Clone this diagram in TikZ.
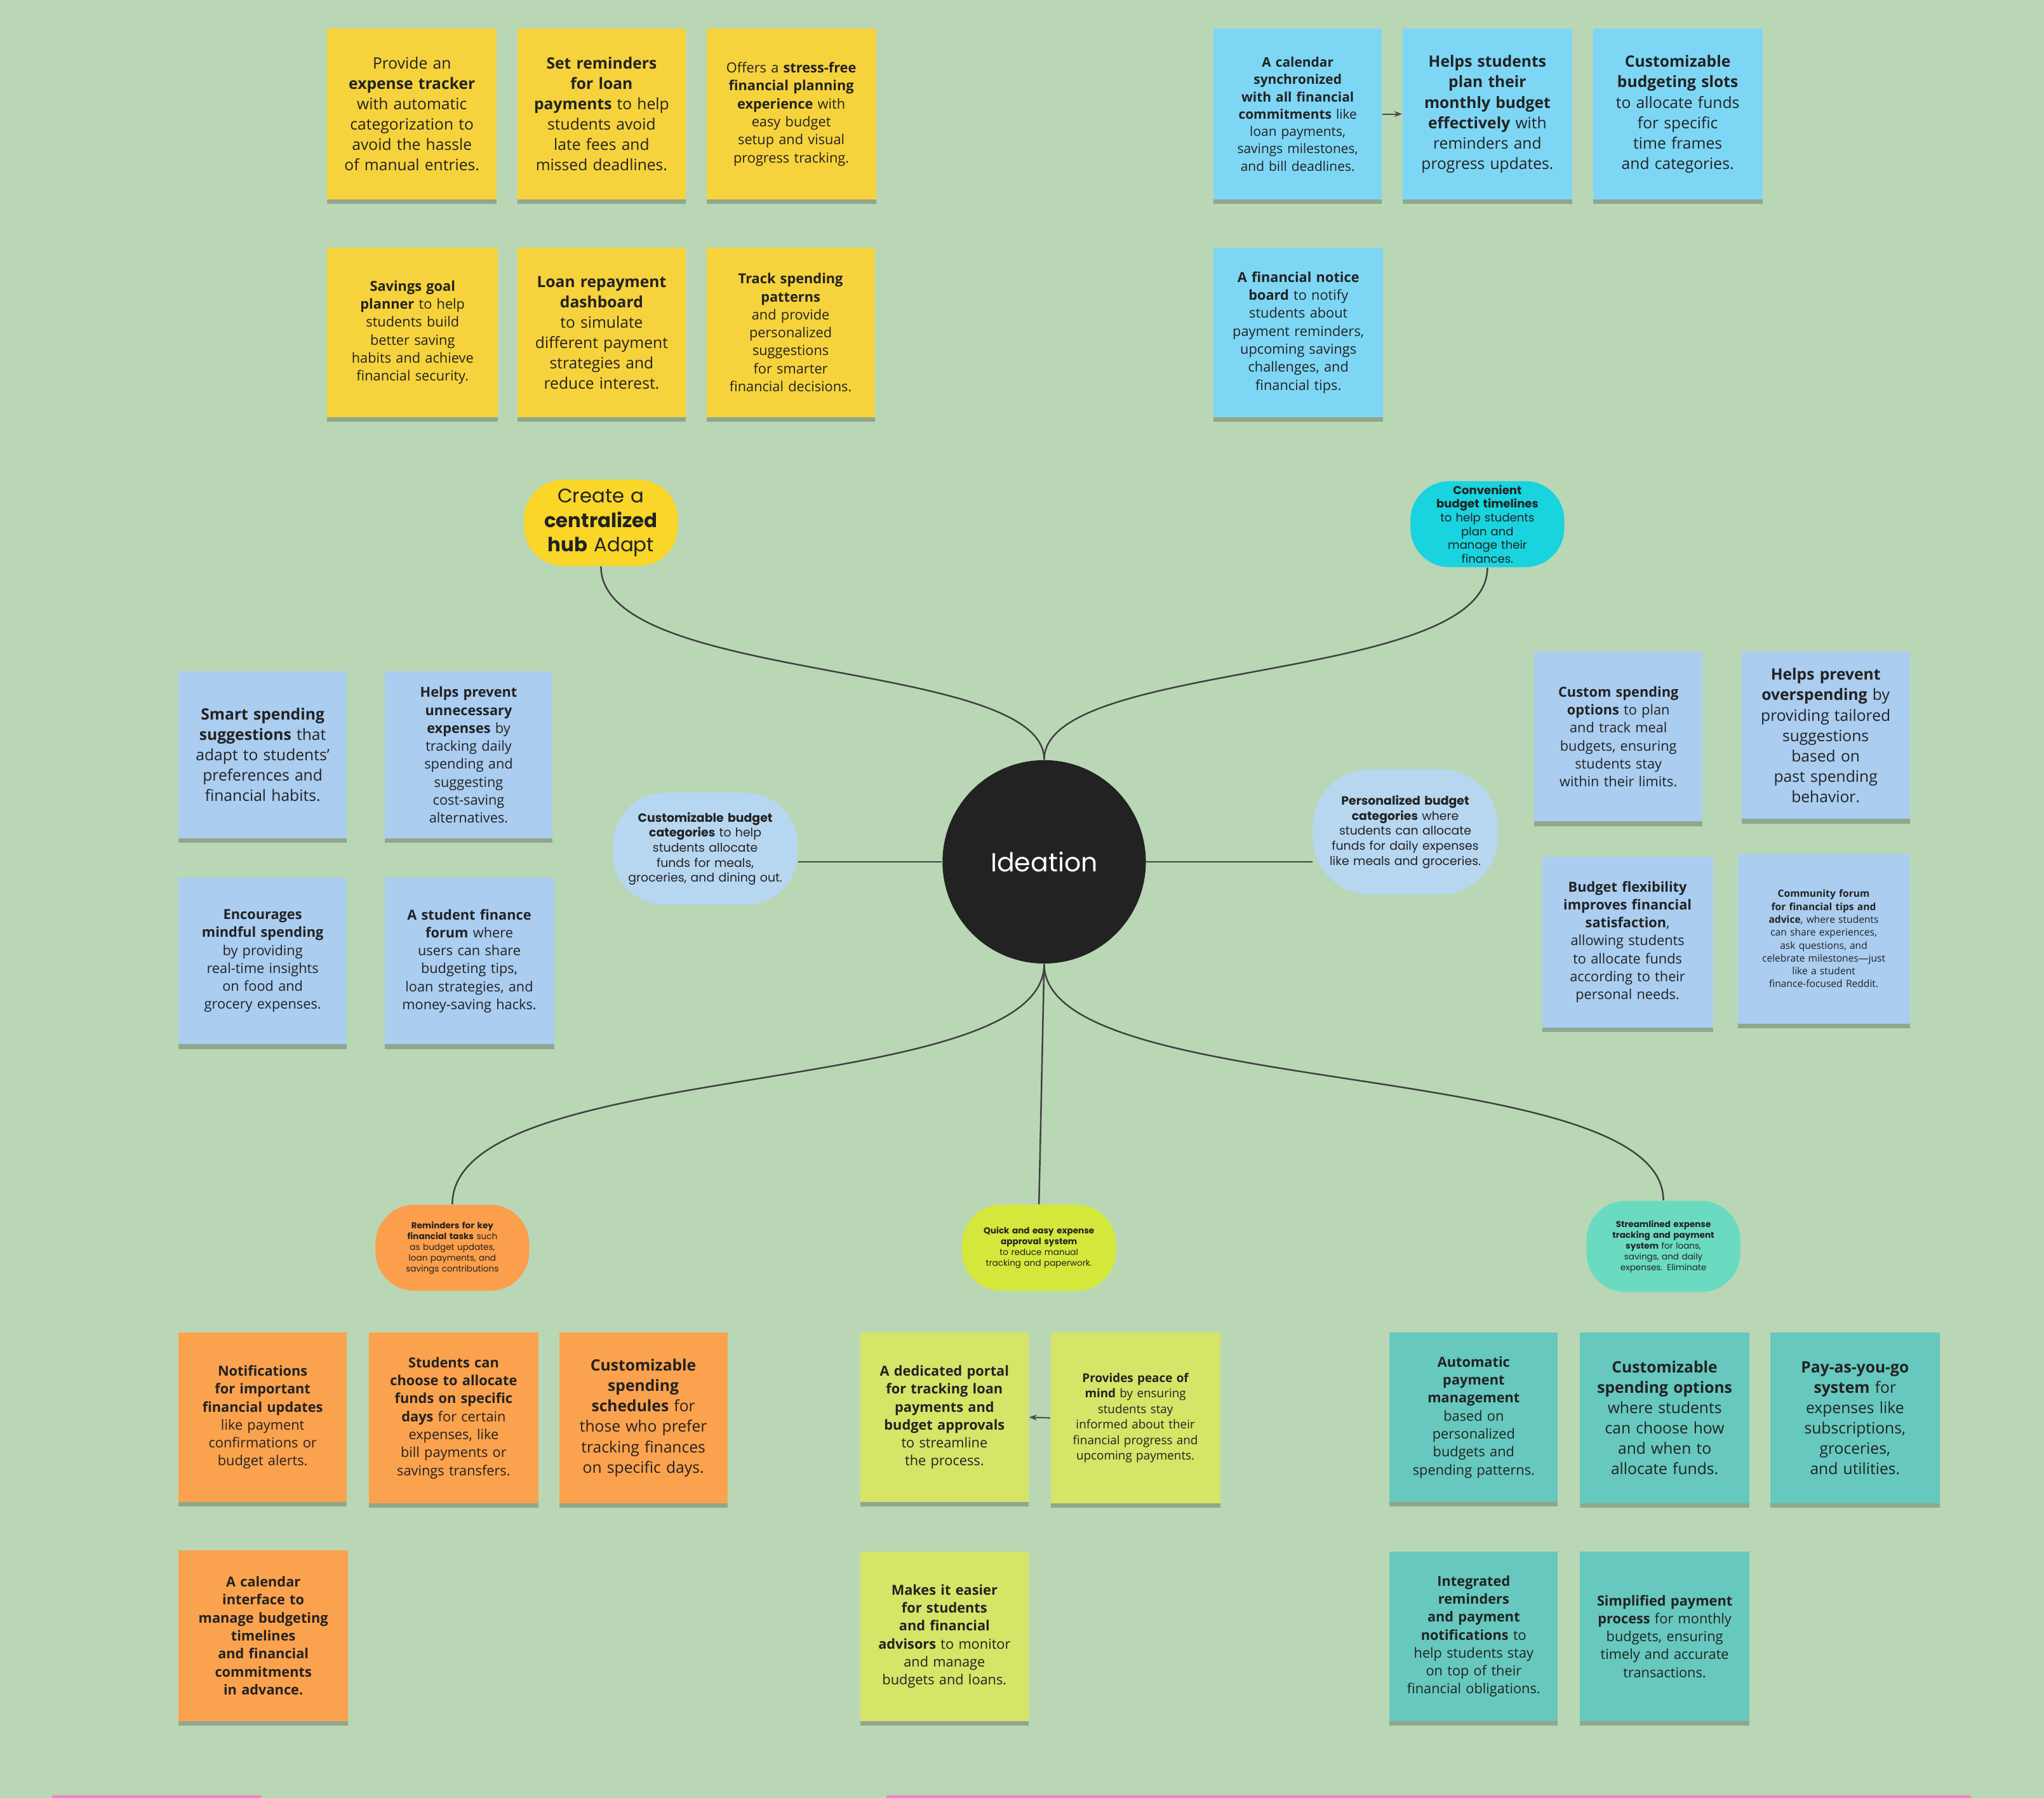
\documentclass[tikz,border=0pt]{standalone}
\usepackage{fontspec}
\setmainfont{Open Sans}
\newfontfamily\popf{Poppins}
\usetikzlibrary{shadows,arrows.meta}
\definecolor{bg}{HTML}{B9D7B5}
\definecolor{yel}{HTML}{F6D33C}
\definecolor{cya}{HTML}{7ED6F5}
\definecolor{lbl}{HTML}{AACDF0}
\definecolor{org}{HTML}{FBA24E}
\definecolor{lim}{HTML}{D6E468}
\definecolor{tea}{HTML}{66C8BE}
\definecolor{byel}{HTML}{F9D627}
\definecolor{bcya}{HTML}{19D3DE}
\definecolor{blbl}{HTML}{B7D6F0}
\definecolor{borg}{HTML}{FB9F4C}
\definecolor{blim}{HTML}{D4E83C}
\definecolor{btea}{HTML}{6ADBC0}
\definecolor{ink}{HTML}{222222}
\newcommand\fsz[2]{\pgfmathsetmacro\lsk{#1*#2}\fontsize{#1}{\lsk}\selectfont\hyphenpenalty=10000\exhyphenpenalty=10000 }
\newcommand\stk[7][6]{\node[sticky,fill=#6,minimum width={(#4-#2)*0.5pt},minimum height={(#5-#3)*0.5pt},font=\fsz{#1}{1.3}] (#2n#3) at ({(#2+#4)/2},{(#3+#5)/2}) {#7};}
\newcommand\bub[7][4.3]{\node[bubble,fill=#6,minimum width={#4*0.5pt},minimum height={#5*0.5pt},font=\popf\fsz{#1}{1.25}] (#2n#3) at (#2,#3) {#7};}
\tikzset{
 sticky/.style={draw=none,inner sep=2pt,text width=52pt,align=center,text=ink,
   drop shadow={shadow xshift=0pt,shadow yshift=-1.8pt,opacity=.22,fill=black}},
 bubble/.style={draw=none,rounded corners=15pt,inner sep=1pt,text width=44pt,align=center,text=ink},
 conn/.style={draw=black!75,line width=0.6pt},
}
\begin{document}
\begin{tikzpicture}[x=0.5pt,y=-0.5pt]
\fill[bg] (0,0) rectangle (1568,1379);
\useasboundingbox (0,0) rectangle (1568,1379);
% yellow
\stk{251}{22}{381}{153}{yel}{Provide an \textbf{expense tracker} with automatic categorization to avoid the hassle of manual entries.}
\stk{397}{22}{526}{153}{yel}{\textbf{Set reminders for loan payments} to help students avoid late fees and missed deadlines.}
\stk[5.3]{542}{22}{672}{153}{yel}{Offers a \textbf{stress-free financial planning experience} with easy budget setup and visual progress tracking.}
\stk[5.3]{251}{190}{382}{320}{yel}{\textbf{Savings goal planner} to help students build better saving habits and achieve financial security.}
\stk{397}{190}{526}{320}{yel}{\textbf{Loan repayment dashboard} to simulate different payment strategies and reduce interest.}
\stk[5.3]{542}{190}{671}{320}{yel}{\textbf{Track spending patterns} and provide personalized suggestions for smarter financial decisions.}
% cyan
\stk[5.1]{931}{22}{1060}{153}{cya}{\textbf{A calendar synchronized with all financial commitments} like loan payments, savings milestones, and bill deadlines.}
\stk{1076}{22}{1206}{153}{cya}{\textbf{Helps students plan their monthly budget effectively} with reminders and progress updates.}
\stk{1222}{22}{1352}{153}{cya}{\textbf{Customizable budgeting slots} to allocate funds for specific time frames and categories.}
\stk[5.3]{931}{190}{1061}{320}{cya}{\textbf{A financial notice board} to notify students about payment reminders, upcoming savings challenges, and financial tips.}
% light blue
\stk{137}{515}{266}{643}{lbl}{\textbf{Smart spending suggestions} that adapt to students' preferences and financial habits.}
\stk[5.3]{295}{515}{424}{643}{lbl}{\textbf{Helps prevent unnecessary expenses} by tracking daily spending and suggesting cost-saving alternatives.}
\stk[5.3]{137}{673}{266}{801}{lbl}{\textbf{Encourages mindful spending} by providing real-time insights on food and grocery expenses.}
\stk[5.3]{295}{673}{425}{801}{lbl}{\textbf{A student finance forum} where users can share budgeting tips, loan strategies, and money-saving hacks.}
\stk[5.3]{1177}{500}{1306}{630}{lbl}{\textbf{Custom spending options} to plan and track meal budgets, ensuring students stay within their limits.}
\stk{1336}{500}{1465}{628}{lbl}{\textbf{Helps prevent overspending} by providing tailored suggestions based on past spending behavior.}
\stk[5.3]{1183}{657}{1314}{788}{lbl}{\textbf{Budget flexibility improves financial satisfaction}, allowing students to allocate funds according to their personal needs.}
\stk[3.8]{1333}{655}{1465}{785}{lbl}{\textbf{Community forum for financial tips and advice}, where students can share experiences, ask questions, and celebrate milestones---just like a student finance-focused Reddit.}
% orange
\stk[5.3]{137}{1022}{266}{1152}{org}{\textbf{Notifications for important financial updates} like payment confirmations or budget alerts.}
\stk[5.3]{283}{1022}{413}{1153}{org}{\textbf{Students can choose to allocate funds on specific days} for certain expenses, like bill payments or savings transfers.}
\stk{429}{1022}{558}{1153}{org}{\textbf{Customizable spending schedules} for those who prefer tracking finances on specific days.}
\stk[5.3]{137}{1189}{267}{1320}{org}{\textbf{A calendar interface to manage budgeting timelines and financial commitments in advance.}}
% lime
\stk[5.3]{660}{1022}{789}{1152}{lim}{\textbf{A dedicated portal for tracking loan payments and budget approvals} to streamline the process.}
\stk[4.6]{806}{1022}{936}{1153}{lim}{\textbf{Provides peace of mind} by ensuring students stay informed about their financial progress and upcoming payments.}
\stk[5.3]{660}{1190}{789}{1320}{lim}{\textbf{Makes it easier for students and financial advisors} to monitor and manage budgets and loans.}
% teal
\stk[5.3]{1066}{1022}{1195}{1152}{tea}{\textbf{Automatic payment management} based on personalized budgets and spending patterns.}
\stk{1212}{1022}{1342}{1153}{tea}{\textbf{Customizable spending options} where students can choose how and when to allocate funds.}
\stk{1358}{1022}{1488}{1153}{tea}{\textbf{Pay-as-you-go system} for expenses like subscriptions, groceries, and utilities.}
\stk[5.3]{1066}{1190}{1195}{1320}{tea}{\textbf{Integrated reminders and payment notifications} to help students stay on top of their financial obligations.}
\stk[5.3]{1212}{1190}{1342}{1320}{tea}{\textbf{Simplified payment process} for monthly budgets, ensuring timely and accurate transactions.}
% small arrows
\draw[-{Stealth[length=3pt]},black!70,line width=0.5pt] (931n22.east) -- (1076n22.west);
\draw[-{Stealth[length=3pt]},black!70,line width=0.5pt] (806n1022.west) -- (660n1022.east);
% center
\node[circle,fill=ink,minimum size=78pt,text=white,font=\popf\fontsize{10}{12}\selectfont] (ide) at (801,661) {Ideation};
% bubbles
\bub[7.5]{461}{401}{118}{66}{byel}{Create a \textbf{centralized hub} Adapt}
\node[bubble,fill=bcya,minimum width=59pt,minimum height=33pt,text width=40pt,font=\popf\fsz{4.4}{1.2}] (1141n402) at (1141,402) {\textbf{Convenient budget timelines} to help students plan and manage their finances.};
\node[bubble,fill=blbl,minimum width=71pt,minimum height=43pt,rounded corners=20pt,text width=60pt,font=\popf\fsz{4.6}{1.25}] (cbc) at (541,651) {\textbf{Customizable budget categories} to help students allocate funds for meals, groceries, and dining out.};
\node[bubble,fill=blbl,minimum width=71pt,minimum height=48pt,rounded corners=22pt,text width=60pt,font=\popf\fsz{4.6}{1.25}] (pbc) at (1078,638) {\textbf{Personalized budget categories} where students can allocate funds for daily expenses like meals and groceries.};
\bub[3.3]{347}{957}{118}{66}{borg}{\textbf{Reminders for key financial tasks} such as budget updates, loan payments, and savings contributions}
\bub[3.3]{797}{957}{118}{66}{blim}{\textbf{Quick and easy expense approval system} to reduce manual tracking and paperwork.}
\bub[3.3]{1276}{956}{118}{70}{btea}{\textbf{Streamlined expense tracking and payment system} for loans, savings, and daily expenses. Eliminate}
% connectors
\draw[conn] (ide.north) .. controls (801,505) and (461,525) .. (461n401.south);
\draw[conn] (ide.north) .. controls (801,505) and (1141,525) .. (1141n402.south);
\draw[conn] (ide.west) -- (ide.west -| cbc.east);
\draw[conn] (ide.east) -- (ide.east -| pbc.west);
\draw[conn] (ide.south) .. controls (801,845) and (347,810) .. (347n957.north);
\draw[conn] (ide.south) -- (797n957.north);
\draw[conn] (ide.south) .. controls (801,845) and (1276,810) .. (1276n956.north);
% bottom pink lines
\draw[draw=magenta!50,line width=1pt] (40,1378) -- (200,1378);
\draw[draw=magenta!50,line width=1pt] (680,1378) -- (1512,1378);
\end{tikzpicture}
\end{document}
